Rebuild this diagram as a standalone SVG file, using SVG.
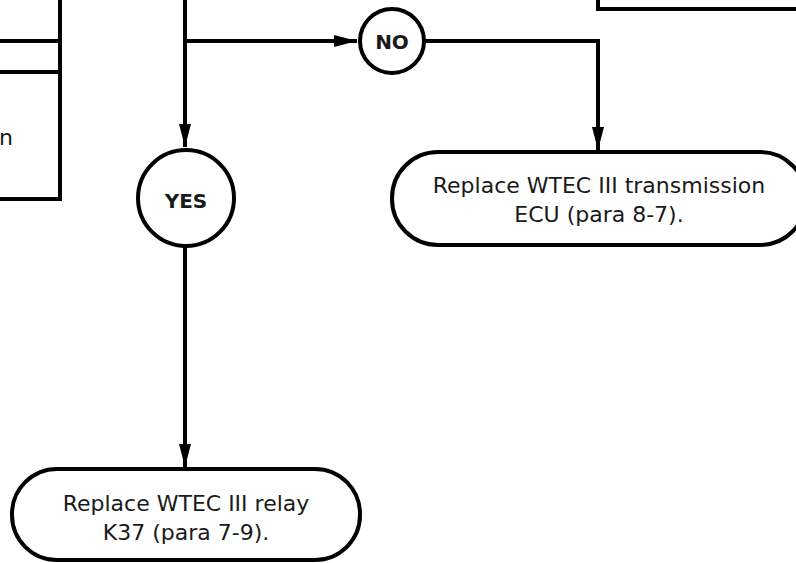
<svg xmlns="http://www.w3.org/2000/svg" width="796" height="563" viewBox="0 0 796 563">
<style>
.ln{fill:none;stroke:#000;stroke-width:4}
.shape{fill:#fff;stroke:#000;stroke-width:4}
.t{font-family:"DejaVu Sans",Verdana,sans-serif;font-size:22px;fill:#1a1a1a;text-anchor:middle}
.b{font-family:"DejaVu Sans",Verdana,sans-serif;font-size:20px;font-weight:bold;fill:#1a1a1a;text-anchor:middle}
</style>
<defs>
<marker id="arr" markerUnits="userSpaceOnUse" markerWidth="24" markerHeight="14" viewBox="0 0 24 14" refX="23" refY="7" orient="auto">
<path d="M0,1 L23,7 L0,13 Z" fill="#000"/>
</marker>
</defs>
<g id="left-box">
<path class="ln" d="M60,-5 V199 H-5"/>
<path class="ln" d="M-5,41 H60 M-5,72 H60"/>
<text class="t" x="-1" y="145" style="text-anchor:start">n</text>
</g>
<g id="top-right-box">
<path class="ln" d="M598,-5 V9 H805"/>
</g>
<g id="connectors">
<path class="ln" d="M185,-5 V147" marker-end="url(#arr)"/>
<path class="ln" d="M185,41 H357" marker-end="url(#arr)"/>
<path class="ln" d="M424,41 H598 V150" marker-end="url(#arr)"/>
<path class="ln" d="M185,247 V467" marker-end="url(#arr)"/>
</g>
<g id="no">
<circle class="shape" cx="392" cy="41" r="32"/>
<text class="b" x="392" y="49">NO</text>
</g>
<g id="yes">
<circle class="shape" cx="186" cy="198" r="48"/>
<text class="b" x="186" y="208">YES</text>
</g>
<g id="replace-ecu">
<rect class="shape" x="392" y="152" width="414" height="93" rx="46" ry="46"/>
<text class="t" x="599" y="193">Replace WTEC III transmission</text>
<text class="t" x="599" y="222">ECU (para 8-7).</text>
</g>
<g id="replace-relay">
<rect class="shape" x="12" y="469" width="348" height="91" rx="45" ry="45"/>
<text class="t" x="186" y="511">Replace WTEC III relay</text>
<text class="t" x="186" y="540">K37 (para 7-9).</text>
</g>
</svg>
